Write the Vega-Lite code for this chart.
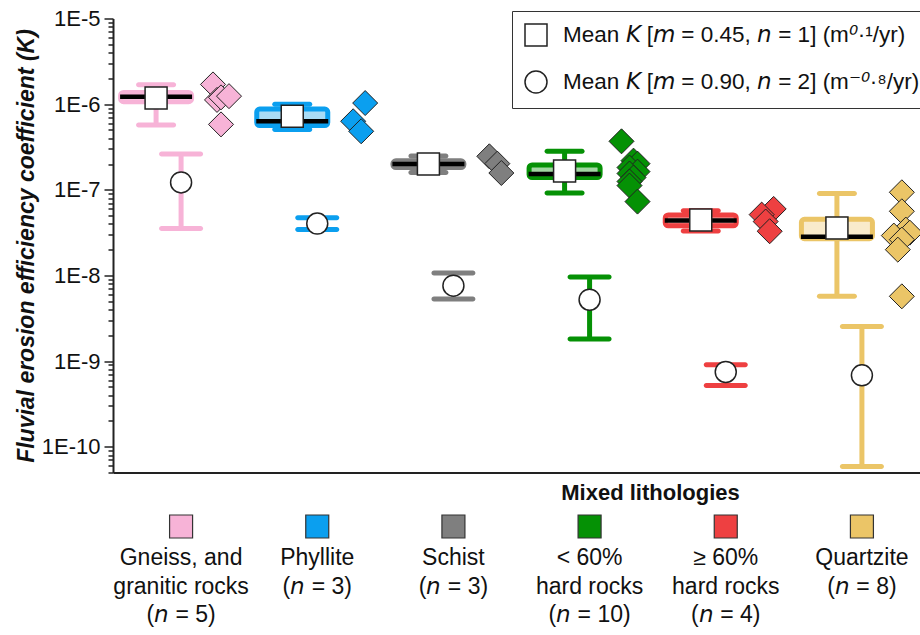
{
  "$schema": "https://vega.github.io/schema/vega-lite/v6.json",
  "autosize": "none",
  "padding": {"left": 113, "top": 18.5, "right": 0, "bottom": 162},
  "width": 817,
  "height": 454,
  "config": {
    "font": "Liberation Sans",
    "view": {"stroke": null},
    "axis": {"grid": false, "domainColor": "#222", "domainWidth": 2, "tickColor": "#222", "labelColor": "#111", "titleColor": "#111"}
  },
  "datasets": {
    "summary": [
      {"group": "Gneiss, and granitic rocks", "series": "m = 0.45, n = 1", "mean": 1.18e-6, "median": 1.22e-6, "q1": 1.07e-6, "q3": 1.37e-6, "lo": 5.7e-7, "hi": 1.69e-6},
      {"group": "Phyllite", "series": "m = 0.45, n = 1", "mean": 7.23e-7, "median": 6.31e-7, "q1": 5.62e-7, "q3": 8.77e-7, "lo": 5.05e-7, "hi": 1.0e-6},
      {"group": "Schist", "series": "m = 0.45, n = 1", "mean": 2.0e-7, "median": 2.0e-7, "q1": 1.82e-7, "q3": 2.18e-7, "lo": 1.59e-7, "hi": 2.48e-7},
      {"group": "< 60% hard rocks", "series": "m = 0.45, n = 1", "mean": 1.66e-7, "median": 1.53e-7, "q1": 1.39e-7, "q3": 1.95e-7, "lo": 9.2e-8, "hi": 2.82e-7},
      {"group": "≥ 60% hard rocks", "series": "m = 0.45, n = 1", "mean": 4.43e-8, "median": 4.37e-8, "q1": 3.79e-8, "q3": 5.09e-8, "lo": 3.31e-8, "hi": 5.68e-8},
      {"group": "Quartzite", "series": "m = 0.45, n = 1", "mean": 3.59e-8, "median": 2.82e-8, "q1": 2.69e-8, "q3": 4.52e-8, "lo": 5.7e-9, "hi": 9.04e-8},
      {"group": "Gneiss, and granitic rocks", "series": "m = 0.90, n = 2", "mean": 1.22e-7, "lo": 3.52e-8, "hi": 2.62e-7},
      {"group": "Phyllite", "series": "m = 0.90, n = 2", "mean": 4.03e-8, "lo": 3.43e-8, "hi": 4.7e-8},
      {"group": "Schist", "series": "m = 0.90, n = 2", "mean": 7.6e-9, "lo": 5.3e-9, "hi": 1.07e-8},
      {"group": "< 60% hard rocks", "series": "m = 0.90, n = 2", "mean": 5.21e-9, "lo": 1.81e-9, "hi": 9.6e-9},
      {"group": "≥ 60% hard rocks", "series": "m = 0.90, n = 2", "mean": 7.46e-10, "lo": 5.2e-10, "hi": 9.08e-10},
      {"group": "Quartzite", "series": "m = 0.90, n = 2", "mean": 6.81e-10, "lo": 5.89e-11, "hi": 2.54e-9}
    ],
    "basins": [
      {"group": "Gneiss, and granitic rocks", "K": 1.70e-6, "lane": "1"},
      {"group": "Gneiss, and granitic rocks", "K": 1.12e-6, "lane": "2"},
      {"group": "Gneiss, and granitic rocks", "K": 1.20e-6, "lane": "3"},
      {"group": "Gneiss, and granitic rocks", "K": 1.24e-6, "lane": "5"},
      {"group": "Gneiss, and granitic rocks", "K": 5.8e-7, "lane": "3"},
      {"group": "Phyllite", "K": 1.03e-6, "lane": "5"},
      {"group": "Phyllite", "K": 6.31e-7, "lane": "2"},
      {"group": "Phyllite", "K": 4.82e-7, "lane": "4"},
      {"group": "Schist", "K": 2.46e-7, "lane": "2"},
      {"group": "Schist", "K": 2.02e-7, "lane": "4"},
      {"group": "Schist", "K": 1.57e-7, "lane": "5"},
      {"group": "< 60% hard rocks", "K": 3.68e-7, "lane": "1"},
      {"group": "< 60% hard rocks", "K": 2.19e-7, "lane": "4"},
      {"group": "< 60% hard rocks", "K": 2.02e-7, "lane": "5"},
      {"group": "< 60% hard rocks", "K": 1.82e-7, "lane": "3"},
      {"group": "< 60% hard rocks", "K": 1.63e-7, "lane": "5"},
      {"group": "< 60% hard rocks", "K": 1.55e-7, "lane": "3"},
      {"group": "< 60% hard rocks", "K": 1.39e-7, "lane": "4"},
      {"group": "< 60% hard rocks", "K": 1.25e-7, "lane": "3"},
      {"group": "< 60% hard rocks", "K": 1.12e-7, "lane": "3"},
      {"group": "< 60% hard rocks", "K": 7.28e-8, "lane": "5"},
      {"group": "≥ 60% hard rocks", "K": 5.98e-8, "lane": "5"},
      {"group": "≥ 60% hard rocks", "K": 5.13e-8, "lane": "2"},
      {"group": "≥ 60% hard rocks", "K": 4.26e-8, "lane": "3"},
      {"group": "≥ 60% hard rocks", "K": 3.28e-8, "lane": "4"},
      {"group": "Quartzite", "K": 9.35e-8, "lane": "3"},
      {"group": "Quartzite", "K": 5.61e-8, "lane": "3"},
      {"group": "Quartzite", "K": 3.43e-8, "lane": "4"},
      {"group": "Quartzite", "K": 3.16e-8, "lane": "5"},
      {"group": "Quartzite", "K": 2.92e-8, "lane": "1"},
      {"group": "Quartzite", "K": 2.62e-8, "lane": "3"},
      {"group": "Quartzite", "K": 2.0e-8, "lane": "2"},
      {"group": "Quartzite", "K": 5.7e-9, "lane": "3"}
    ]
  },
  "encoding": {
    "x": {
      "field": "group",
      "type": "nominal",
      "sort": null,
      "scale": {
        "type": "band",
        "domain": ["Gneiss, and granitic rocks", "Phyllite", "Schist", "< 60% hard rocks", "≥ 60% hard rocks", "Quartzite"],
        "paddingInner": 0,
        "paddingOuter": 0
      },
      "axis": {
        "orient": "bottom",
        "ticks": false,
        "labelAngle": 0,
        "labelBaseline": "top",
        "labelPadding": 74,
        "labelFontSize": 23,
        "labelLineHeight": 28.5,
        "labelLimit": 0,
        "labelExpr": "{'Gneiss, and granitic rocks': ['Gneiss, and', 'granitic rocks', '(𝘯 = 5)'], 'Phyllite': ['Phyllite', '(𝘯 = 3)'], 'Schist': ['Schist', '(𝘯 = 3)'], '< 60% hard rocks': ['< 60%', 'hard rocks', '(𝘯 = 10)'], '≥ 60% hard rocks': ['≥ 60%', 'hard rocks', '(𝘯 = 4)'], 'Quartzite': ['Quartzite', '(𝘯 = 8)']}[datum.label]",
        "title": "Mixed lithologies",
        "titleFontSize": 22,
        "titleFontWeight": "bold",
        "titleX": 537,
        "titleY": 20,
        "titleAlign": "center",
        "titleBaseline": "middle"
      }
    }
  },
  "layer": [
    {
      "data": {"name": "summary"},
      "transform": [{"filter": "datum.series == 'm = 0.45, n = 1'"}],
      "mark": {"type": "rule", "strokeWidth": 5, "xOffset": -25},
      "encoding": {
        "y": {
          "field": "lo",
          "type": "quantitative",
          "scale": {"type": "log", "domain": [5e-11, 1e-5], "nice": false},
          "axis": {
            "title": "Fluvial erosion efficiency coefficient (K)",
            "titleFontSize": 23,
            "titleFontWeight": "bold",
            "titleFontStyle": "italic",
            "titlePadding": 3,
            "values": [5e-11, 6e-11, 7e-11, 8e-11, 9e-11,
              1e-10, 2e-10, 3e-10, 4e-10, 5e-10, 6e-10, 7e-10, 8e-10, 9e-10,
              1e-9, 2e-9, 3e-9, 4e-9, 5e-9, 6e-9, 7e-9, 8e-9, 9e-9,
              1e-8, 2e-8, 3e-8, 4e-8, 5e-8, 6e-8, 7e-8, 8e-8, 9e-8,
              1e-7, 2e-7, 3e-7, 4e-7, 5e-7, 6e-7, 7e-7, 8e-7, 9e-7,
              1e-6, 2e-6, 3e-6, 4e-6, 5e-6, 6e-6, 7e-6, 8e-6, 9e-6, 1e-5],
            "labelExpr": "abs(log(datum.value) / LN10 - round(log(datum.value) / LN10)) < 0.001 ? '1E' + round(log(datum.value) / LN10) : ''",
            "tickSize": {"condition": {"test": "abs(log(datum.value) / LN10 - round(log(datum.value) / LN10)) < 0.001", "value": 9}, "value": 5},
            "tickWidth": 1.5,
            "labelFontSize": 22,
            "labelPadding": 4,
            "labelOverlap": false,
            "labelFlush": false,
            "labelBound": false
          }
        },
        "y2": {"field": "hi"},
        "color": {
          "field": "group", "type": "nominal",
          "scale": {
            "domain": ["Gneiss, and granitic rocks", "Phyllite", "Schist", "< 60% hard rocks", "≥ 60% hard rocks", "Quartzite"],
            "range": ["#F7B3D7", "#0B9FEF", "#7F7F7F", "#059105", "#EE4041", "#EBC567"]
          },
          "legend": null
        }
      }
    },
    {
      "data": {"name": "summary"},
      "transform": [{"filter": "datum.series == 'm = 0.45, n = 1'"}, {"fold": ["lo", "hi"], "as": ["end", "K"]}],
      "mark": {"type": "tick", "size": 40, "thickness": 5, "cornerRadius": 2.5, "opacity": 1, "xOffset": -25},
      "encoding": {
        "y": {"field": "K", "type": "quantitative"},
        "color": {"field": "group", "type": "nominal", "legend": null}
      }
    },
    {
      "data": {"name": "summary"},
      "transform": [{"filter": "datum.series == 'm = 0.45, n = 1'"}],
      "mark": {"type": "bar", "width": 71, "strokeWidth": 5, "cornerRadius": 3, "strokeJoin": "round", "xOffset": -25},
      "encoding": {
        "y": {"field": "q1", "type": "quantitative"},
        "y2": {"field": "q3"},
        "fill": {
          "field": "group", "type": "nominal",
          "scale": {
            "domain": ["Gneiss, and granitic rocks", "Phyllite", "Schist", "< 60% hard rocks", "≥ 60% hard rocks", "Quartzite"],
            "range": ["#FCDDEE", "#A9DCF6", "#B0B0B0", "#A2D6A2", "#F7A8A8", "#F9EBCB"]
          },
          "legend": null
        },
        "stroke": {
          "field": "group", "type": "nominal",
          "scale": {
            "domain": ["Gneiss, and granitic rocks", "Phyllite", "Schist", "< 60% hard rocks", "≥ 60% hard rocks", "Quartzite"],
            "range": ["#F7B3D7", "#0B9FEF", "#7F7F7F", "#059105", "#EE4041", "#EBC567"]
          },
          "legend": null
        }
      }
    },
    {
      "data": {"name": "summary"},
      "transform": [{"filter": "datum.series == 'm = 0.45, n = 1'"}],
      "mark": {"type": "tick", "size": 72, "thickness": 4.5, "color": "#000", "opacity": 1, "xOffset": -25},
      "encoding": {
        "y": {"field": "median", "type": "quantitative"}
      }
    },
    {
      "data": {"name": "summary"},
      "transform": [{"filter": "datum.series == 'm = 0.45, n = 1'"}],
      "mark": {"type": "point", "filled": true, "fill": "white", "stroke": "#222", "strokeWidth": 1.5, "size": 484, "opacity": 1, "xOffset": -25},
      "encoding": {
        "y": {"field": "mean", "type": "quantitative"},
        "shape": {
          "field": "series", "type": "nominal",
          "scale": {"domain": ["m = 0.45, n = 1", "m = 0.90, n = 2"], "range": ["square", "circle"]},
          "legend": {
            "orient": "none",
            "legendX": 399,
            "legendY": -7.5,
            "title": null,
            "labelExpr": "datum.label == 'm = 0.45, n = 1' ? 'Mean 𝘒 [𝘮 = 0.45, 𝘯 = 1] (m⁰·¹/yr)' : 'Mean 𝘒 [𝘮 = 0.90, 𝘯 = 2] (m⁻⁰·⁸/yr)'",
            "labelFontSize": 22.5,
            "labelColor": "#111",
            "labelLimit": 0,
            "labelOffset": 15,
            "symbolSize": 484,
            "symbolStrokeWidth": 1.5,
            "symbolOpacity": 1,
            "strokeColor": "#333",
            "fillColor": "white",
            "padding": 12,
            "rowPadding": 19
          }
        }
      }
    },
    {
      "data": {"name": "summary"},
      "transform": [{"filter": "datum.series == 'm = 0.90, n = 2'"}],
      "mark": {"type": "rule", "strokeWidth": 5},
      "encoding": {
        "y": {"field": "lo", "type": "quantitative"},
        "y2": {"field": "hi"},
        "color": {"field": "group", "type": "nominal", "legend": null}
      }
    },
    {
      "data": {"name": "summary"},
      "transform": [{"filter": "datum.series == 'm = 0.90, n = 2'"}, {"fold": ["lo", "hi"], "as": ["end", "K"]}],
      "mark": {"type": "tick", "size": 44, "thickness": 5, "cornerRadius": 2.5, "opacity": 1},
      "encoding": {
        "y": {"field": "K", "type": "quantitative"},
        "color": {"field": "group", "type": "nominal", "legend": null}
      }
    },
    {
      "data": {"name": "summary"},
      "transform": [{"filter": "datum.series == 'm = 0.90, n = 2'"}],
      "mark": {"type": "point", "filled": true, "fill": "white", "stroke": "#222", "strokeWidth": 1.5, "size": 441, "opacity": 1},
      "encoding": {
        "y": {"field": "mean", "type": "quantitative"},
        "shape": {"field": "series", "type": "nominal"}
      }
    },
    {
      "data": {"name": "basins"},
      "mark": {"type": "point", "shape": "diamond", "filled": true, "stroke": "#222", "strokeWidth": 1, "size": 625, "opacity": 1},
      "encoding": {
        "y": {"field": "K", "type": "quantitative"},
        "xOffset": {"field": "lane", "type": "nominal", "scale": {"type": "point", "domain": ["1", "2", "3", "4", "5"], "range": [98, 118]}},
        "color": {"field": "group", "type": "nominal", "legend": null}
      }
    },
    {
      "data": {"name": "summary"},
      "transform": [{"filter": "datum.series == 'm = 0.45, n = 1'"}],
      "mark": {"type": "point", "shape": "square", "filled": true, "stroke": "#333", "strokeWidth": 1.2, "size": 529, "opacity": 1, "yOffset": 54},
      "encoding": {
        "y": {"datum": 5e-11, "type": "quantitative"},
        "color": {"field": "group", "type": "nominal", "legend": null}
      }
    }
  ]
}
